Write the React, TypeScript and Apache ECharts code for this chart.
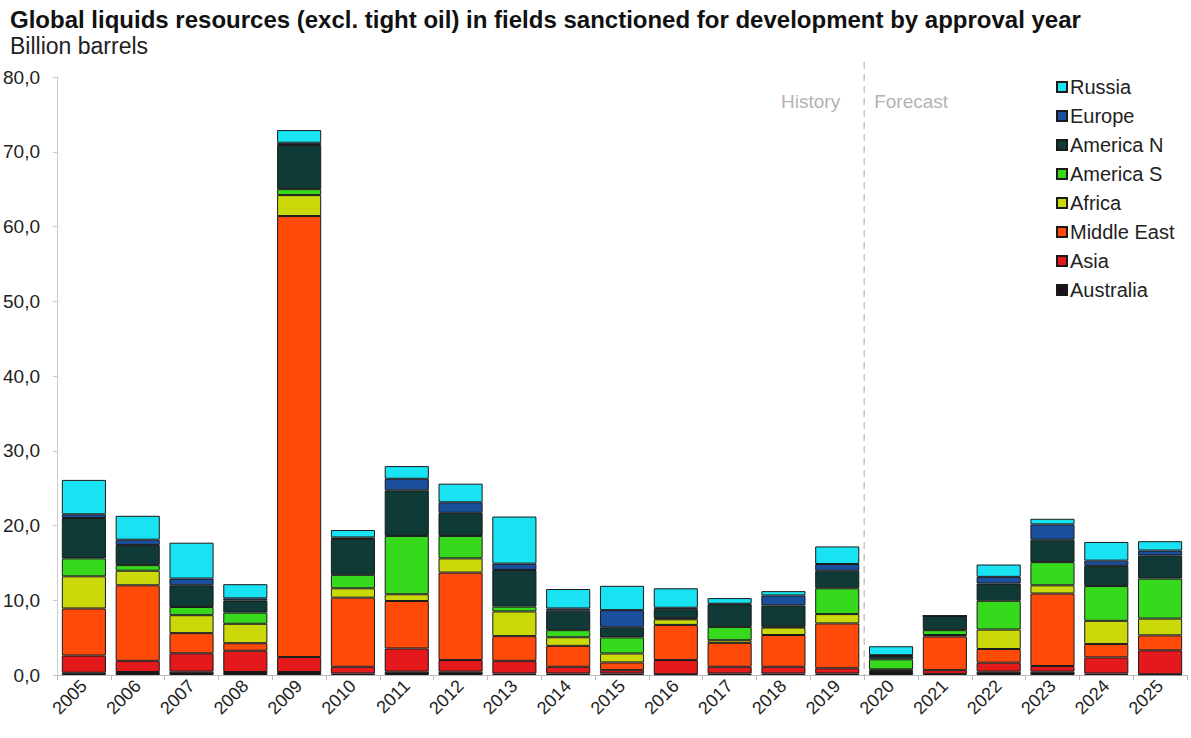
import React, { useEffect, useRef } from "react";
import * as echarts from "echarts";

const years = ["2005","2006","2007","2008","2009","2010","2011","2012","2013","2014","2015","2016","2017","2018","2019","2020","2021","2022","2023","2024","2025"];
const australia = [0.3,0.4,0.45,0.4,0.4,0.2,0.45,0.45,0.2,0.2,0.2,0.1,0.2,0.2,0.2,0.4,0.15,0.45,0.45,0.2,0.1];
const asia = [2.3,1.5,2.45,2.85,2.0,0.9,3.1,1.55,1.7,0.9,0.45,1.9,0.9,0.9,0.7,0.1,0.5,1.2,0.75,2.15,3.2];
const middleEast = [6.3,10.1,2.7,1.0,59.0,9.25,6.35,11.7,3.3,2.8,1.03,4.7,3.2,4.25,6.0,0.1,4.5,1.83,9.7,1.8,2.0];
const africa = [4.3,1.95,2.4,2.6,2.8,1.25,0.9,1.9,3.3,1.15,1.2,0.75,0.35,1.0,1.25,0.15,0.2,2.6,1.1,3.1,2.25];
const americaS = [2.4,0.75,1.1,1.5,0.8,1.8,7.8,3.0,0.65,0.95,2.15,0.15,1.78,0.1,3.45,1.35,0.65,3.85,3.1,4.65,5.35];
const americaN = [5.4,2.7,2.9,1.6,5.9,4.8,6.1,3.1,4.9,2.6,1.35,1.2,3.0,2.85,2.35,0.45,1.9,2.3,3.0,2.7,3.1];
const europe = [0.5,0.7,0.9,0.3,0.3,0.2,1.55,1.4,0.85,0.3,2.3,0.2,0.1,1.34,0.9,0.1,0,0.9,2.05,0.7,0.65];
const russia = [4.6,3.2,4.8,1.9,1.7,1.0,1.7,2.5,6.3,2.6,3.25,2.6,0.76,0.58,2.35,1.2,0,1.65,0.75,2.5,1.25];
const lastHistoryYear = "2019";
const firstForecastYear = "2020";

const seriesDefs = [
  { name: "Australia", data: australia, color: "#1e0f1c" },
  { name: "Asia", data: asia, color: "#e3191b" },
  { name: "Middle East", data: middleEast, color: "#ff4a0a" },
  { name: "Africa", data: africa, color: "#cbd80a" },
  { name: "America S", data: americaS, color: "#36d91c" },
  { name: "America N", data: americaN, color: "#0f3a36" },
  { name: "Europe", data: europe, color: "#1a4f9c" },
  { name: "Russia", data: russia, color: "#19e3f2" },
];
const legendOrder = ["Russia","Europe","America N","America S","Africa","Middle East","Asia","Australia"];
const FONT = "'Liberation Sans', Arial, sans-serif";

export default function App() {
  const ref = useRef<HTMLDivElement>(null);
  useEffect(() => {
    if (!ref.current) return;
    const chart = echarts.init(ref.current, null, { renderer: "svg" });
    chart.setOption({
      animation: false,
      backgroundColor: "#ffffff",
      textStyle: { fontFamily: FONT },
      title: {
        text: "Global liquids resources (excl. tight oil) in fields sanctioned for development by approval year",
        subtext: "Billion barrels",
        left: 5,
        top: 2,
        itemGap: 3,
        textStyle: { fontSize: 24, fontWeight: "bold", color: "#111", fontFamily: FONT },
        subtextStyle: { fontSize: 23, color: "#222", fontFamily: FONT },
      },
      legend: {
        data: legendOrder,
        orient: "vertical",
        left: 1051,
        top: 72,
        itemWidth: 10,
        itemHeight: 10,
        itemGap: 9,
        icon: "rect",
        textStyle: { fontSize: 20, color: "#222", fontFamily: FONT, padding: [0, 0, 0, -2] },
      },
      grid: { left: 57, right: 4, top: 77, bottom: 63, containLabel: false },
      xAxis: {
        type: "category",
        data: years,
        axisLine: { show: true, lineStyle: { color: "#bbb" } },
        axisTick: { show: true, length: 5, lineStyle: { color: "#bbb" } },
        axisLabel: { rotate: 45, fontSize: 18, color: "#222", margin: 8, fontFamily: FONT },
      },
      yAxis: {
        type: "value",
        min: 0,
        max: 80,
        interval: 10,
        axisLine: { show: true, lineStyle: { color: "#ccc" } },
        axisTick: { show: true, length: 4, lineStyle: { color: "#ccc" } },
        splitLine: { show: false },
        axisLabel: {
          fontSize: 19,
          color: "#222",
          margin: 17,
          fontFamily: FONT,
          formatter: (v: number) => v.toFixed(1).replace(".", ","),
        },
      },
      series: seriesDefs.map((s) => ({
        name: s.name,
        type: "bar",
        stack: "total",
        data: s.data,
        barCategoryGap: "18%",
        itemStyle: { color: s.color, borderColor: "#1a1a1a", borderWidth: 1 },
        emphasis: { disabled: true },
      })),
    });
    const xa = chart.convertToPixel({ xAxisIndex: 0 }, lastHistoryYear) as number;
    const xb = chart.convertToPixel({ xAxisIndex: 0 }, firstForecastYear) as number;
    const y0 = chart.convertToPixel({ yAxisIndex: 0 }, 0) as number;
    const xm = (xa + xb) / 2;
    chart.setOption({
      graphic: [
        { type: "line", shape: { x1: xm, y1: 62, x2: xm, y2: y0 }, style: { stroke: "#aaa", lineWidth: 1, lineDash: [7, 5] }, silent: true },
        { type: "text", x: xm - 24, y: 101, style: { text: "History", fontSize: 19, fill: "#b3b3b3", fontFamily: FONT, align: "right", verticalAlign: "middle" } },
        { type: "text", x: xm + 10, y: 101, style: { text: "Forecast", fontSize: 19, fill: "#b3b3b3", fontFamily: FONT, align: "left", verticalAlign: "middle" } },
      ],
    });
    return () => chart.dispose();
  }, []);
  return <div ref={ref} style={{ position: "fixed", left: 0, top: 0, width: 1191, height: 738 }} />;
}
